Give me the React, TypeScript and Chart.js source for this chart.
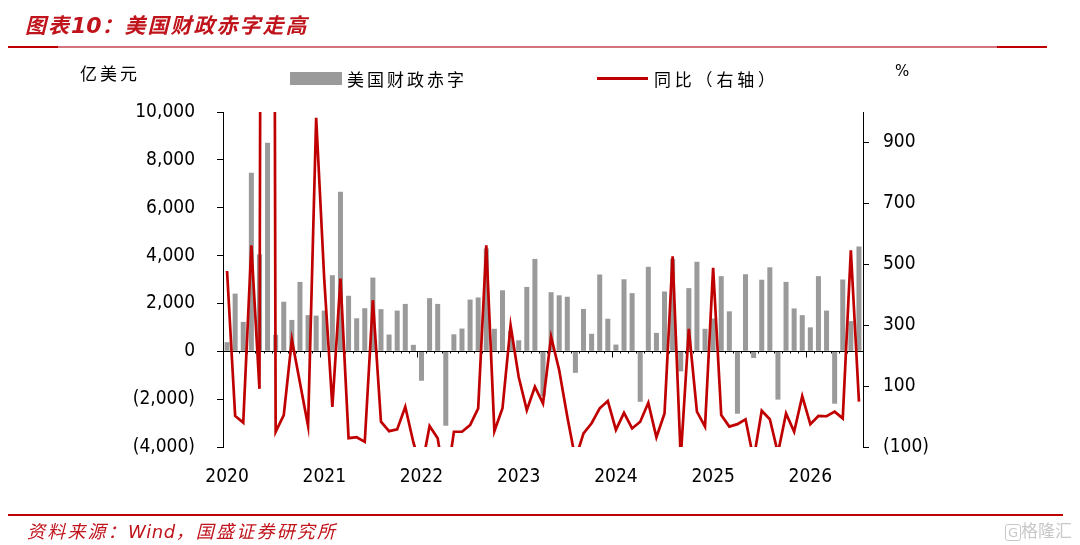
import React, { useEffect, useRef } from "react";
import { Chart, registerables } from "chart.js";

Chart.register(...registerables);

// ---- data ----
const START_YEAR = 2020;
const MONTH_COUNT = 79; // Jan 2020 .. Jul 2026
const months: string[] = [];
for (let i = 0; i < MONTH_COUNT; i++) {
  const y = START_YEAR + Math.floor(i / 12);
  const m = (i % 12) + 1;
  months.push(`${y}-${String(m).padStart(2, "0")}`);
}

// 美国财政赤字 (亿美元)
const deficit2020 = [380, 2410, 1230, 7460, 4050, 8720, 690, 2070, 1310, 2900, 1510, 1490];
const deficit2021 = [1700, 3180, 6670, 2320, 1380, 1800, 3080, 1760, 700, 1700, 1980, 270];
const deficit2022 = [-1230, 2220, 1980, -3110, 710, 950, 2160, 2250, 4300, 940, 2550, 850];
const deficit2023 = [460, 2690, 3860, -1880, 2470, 2340, 2280, -900, 1770, 730, 3210, 1360];
const deficit2024 = [280, 3010, 2430, -2110, 3530, 770, 2500, 3860, -840, 2640, 3740, 940];
const deficit2025 = [1370, 3140, 1670, -2610, 3220, -280, 2990, 3510, -2020, 2900, 1790, 1510];
const deficit2026 = [1000, 3140, 1700, -2190, 3000, 1260, 4380];
const deficit = [
  ...deficit2020, ...deficit2021, ...deficit2022, ...deficit2023,
  ...deficit2024, ...deficit2025, ...deficit2026,
];

// 同比 (%, 右轴)
const yoy2020 = [478, 2, -20, 562, 91, 10700, -50, 5, 253, 111, -31, 981];
const yoy2021 = [450, 32, 453, -71, -68, -83, 382, -17, -48, -42, 32, -85];
const yoy2022 = [-173, -31, -71, -236, -50, -50, -28, 27, 562, -48, 27, 299];
const yoy2023 = [130, 21, 98, 43, 262, 152, -1, -140, -55, -22, 27, 51];
const yoy2024 = [-44, 12, -39, -17, 45, -68, 10, 526, -137, 288, 16, -33];
const yoy2025 = [488, 5, -33, -25, -9, -141, 19, -9, -120, 10, -50, 67];
const yoy2026 = [-25, 2, 1, 16, -6, 546, 49];
const yoy = [
  ...yoy2020, ...yoy2021, ...yoy2022, ...yoy2023,
  ...yoy2024, ...yoy2025, ...yoy2026,
];

const leftTicks = [-4000, -2000, 0, 2000, 4000, 6000, 8000, 10000];
const rightTicks = [-100, 100, 300, 500, 700, 900];

const fmt = (v: number) =>
  v < 0 ? `(${Math.abs(v).toLocaleString("en-US")})` : v.toLocaleString("en-US");

const TICK_FONT = { family: '"DejaVu Sans Condensed", "DejaVu Sans", sans-serif', size: 19 };

const zeroLinePlugin = {
  id: "zeroLine",
  afterDatasetDraw(chart: any, args: any) {
    if (args.index !== 1) return;
    const { ctx, chartArea, scales } = chart;
    const y = Math.round(scales.y.getPixelForValue(0)) + 0.5;
    const n = months.length;
    const w = (chartArea.right - chartArea.left) / n;
    ctx.save();
    ctx.strokeStyle = "#000";
    ctx.lineWidth = 1.2;
    ctx.beginPath();
    ctx.moveTo(chartArea.left, y);
    ctx.lineTo(chartArea.right, y);
    ctx.stroke();
    ctx.lineWidth = 1;
    for (let i = 1; i < n; i++) {
      const px = Math.round(chartArea.left + i * w) + 0.5;
      const len = i % 12 === 0 ? 6 : 2;
      ctx.beginPath();
      ctx.moveTo(px, y);
      ctx.lineTo(px, y + len);
      ctx.stroke();
    }
    ctx.restore();
  },
};

export default function App() {
  const canvasRef = useRef<HTMLCanvasElement | null>(null);

  useEffect(() => {
    document.body.style.margin = "0";
    const canvas = canvasRef.current;
    if (!canvas) return;
    const chart = new Chart(canvas, {
      data: {
        labels: months,
        datasets: [
          {
            type: "line",
            label: "同比（右轴）",
            data: yoy,
            yAxisID: "y1",
            borderColor: "#C00000",
            borderWidth: 2.7,
            pointRadius: 0,
            tension: 0,
            order: 0,
          },
          {
            type: "bar",
            label: "美国财政赤字",
            data: deficit,
            yAxisID: "y",
            backgroundColor: "#9A9A9A",
            barPercentage: 0.62,
            categoryPercentage: 1,
            order: 1,
          },
        ],
      } as any,
      options: {
        animation: false,
        responsive: true,
        maintainAspectRatio: false,
        layout: { padding: { top: 112, left: 0, right: 0, bottom: 0 } },
        plugins: {
          legend: { display: false },
          tooltip: { enabled: false },
          title: { display: false },
        },
        scales: {
          x: {
            type: "category",
            offset: true,
            grid: { display: false, drawTicks: false },
            border: { display: false },
            ticks: {
              autoSkip: false,
              maxRotation: 0,
              minRotation: 0,
              padding: 19,
              color: "#000",
              font: TICK_FONT,
              callback: (_v: any, i: number) => (i % 12 === 0 ? String(START_YEAR + i / 12) : ""),
            },
            afterFit: (s: any) => {
              s.height = 98;
            },
          },
          y: {
            type: "linear",
            position: "left",
            min: -4000,
            max: 10000,
            afterBuildTicks: (s: any) => {
              s.ticks = leftTicks.map((v) => ({ value: v }));
            },
            grid: {
              drawOnChartArea: false,
              drawTicks: true,
              tickLength: 6,
              tickColor: "#000",
            },
            border: { display: true, color: "#000", width: 1 },
            ticks: {
              padding: 22,
              color: "#000",
              font: TICK_FONT,
              callback: (v: any) => fmt(Number(v)),
            },
            afterFit: (s: any) => {
              s.width = 223;
            },
          },
          y1: {
            type: "linear",
            position: "right",
            min: -100,
            max: 1000,
            afterBuildTicks: (s: any) => {
              s.ticks = rightTicks.map((v) => ({ value: v }));
            },
            grid: {
              drawOnChartArea: false,
              drawTicks: true,
              tickLength: 6,
              tickColor: "#000",
            },
            border: { display: true, color: "#000", width: 1 },
            ticks: {
              padding: 14,
              color: "#000",
              font: TICK_FONT,
              callback: (v: any) => fmt(Number(v)),
            },
            afterFit: (s: any) => {
              s.width = 217;
            },
          },
        },
      } as any,
      plugins: [zeroLinePlugin],
    });
    return () => chart.destroy();
  }, []);

  const cjk = '"Noto Sans CJK SC", sans-serif';
  const abs = (o: React.CSSProperties): React.CSSProperties => ({ position: "absolute", ...o });

  return (
    <div
      style={{
        position: "absolute",
        left: 0,
        top: 0,
        width: 1080,
        height: 545,
        background: "#fff",
        overflow: "hidden",
      }}
    >
      <canvas ref={canvasRef} style={{ position: "absolute", left: 0, top: 0 }} />
      <div style={{ position: "absolute", left: 0, top: 0, width: 1080, height: 545 }}>
        {/* title */}
        <div
          style={abs({
            left: 25,
            top: 9,
            fontFamily: cjk,
            fontSize: 21,
            fontWeight: 700,
            fontStyle: "italic",
            color: "#C0141C",
            lineHeight: "30px",
            letterSpacing: 2,
            whiteSpace: "nowrap",
          })}
        >
          图表
          <span style={{ fontFamily: '"DejaVu Sans", sans-serif', fontSize: 22, letterSpacing: 0 }}>10</span>
          ：美国财政赤字走高
        </div>
        {/* title rule */}
        <div style={abs({ left: 8, top: 45.5, width: 1039, height: 2, background: "#D4747A" })} />
        <div style={abs({ left: 8, top: 45.5, width: 50, height: 2, background: "#C00000" })} />
        <div style={abs({ left: 997, top: 45.5, width: 50, height: 2, background: "#C00000" })} />

        {/* axis units */}
        <div style={abs({ left: 80, top: 60, fontFamily: cjk, fontSize: 17, lineHeight: "26px", letterSpacing: 3, color: "#000" })}>
          亿美元
        </div>
        <div style={abs({ left: 895, top: 58, fontFamily: '"DejaVu Sans", sans-serif', fontSize: 15, lineHeight: "26px", color: "#000" })}>
          %
        </div>

        {/* legend */}
        <div style={abs({ left: 290, top: 72, width: 52, height: 13, background: "#9A9A9A" })} />
        <div style={abs({ left: 347, top: 65, fontFamily: cjk, fontSize: 17, lineHeight: "28px", letterSpacing: 3, color: "#000", whiteSpace: "nowrap" })}>
          美国财政赤字
        </div>
        <div style={abs({ left: 597, top: 77, width: 51, height: 3, background: "#C00000" })} />
        <div style={abs({ left: 654, top: 65, fontFamily: cjk, fontSize: 17, lineHeight: "28px", letterSpacing: 3.8, color: "#000", whiteSpace: "nowrap" })}>
          同比（右轴）
        </div>

        {/* footer */}
        <div style={abs({ left: 8, top: 514, width: 1055, height: 2, background: "#C00000" })} />
        <div
          style={abs({
            left: 27,
            top: 516,
            fontFamily: cjk,
            fontSize: 18,
            fontStyle: "italic",
            color: "#C0141C",
            lineHeight: "28px",
            letterSpacing: 2.2,
            whiteSpace: "nowrap",
          })}
        >
          资料来源：<span style={{ fontFamily: '"DejaVu Sans", sans-serif', letterSpacing: 0.5 }}>Wind</span>，国盛证券研究所
        </div>
        {/* watermark */}
        <div
          style={abs({
            left: 1005,
            top: 518,
            fontFamily: cjk,
            fontSize: 17,
            lineHeight: "24px",
            color: "#C8C8C8",
            whiteSpace: "nowrap",
          })}
        >
          <span style={{ border: "1.5px solid #C8C8C8", borderRadius: 3, padding: "0 2px", fontFamily: '"DejaVu Sans", sans-serif', fontSize: 13 }}>G</span>
          格隆汇
        </div>
      </div>
    </div>
  );
}
